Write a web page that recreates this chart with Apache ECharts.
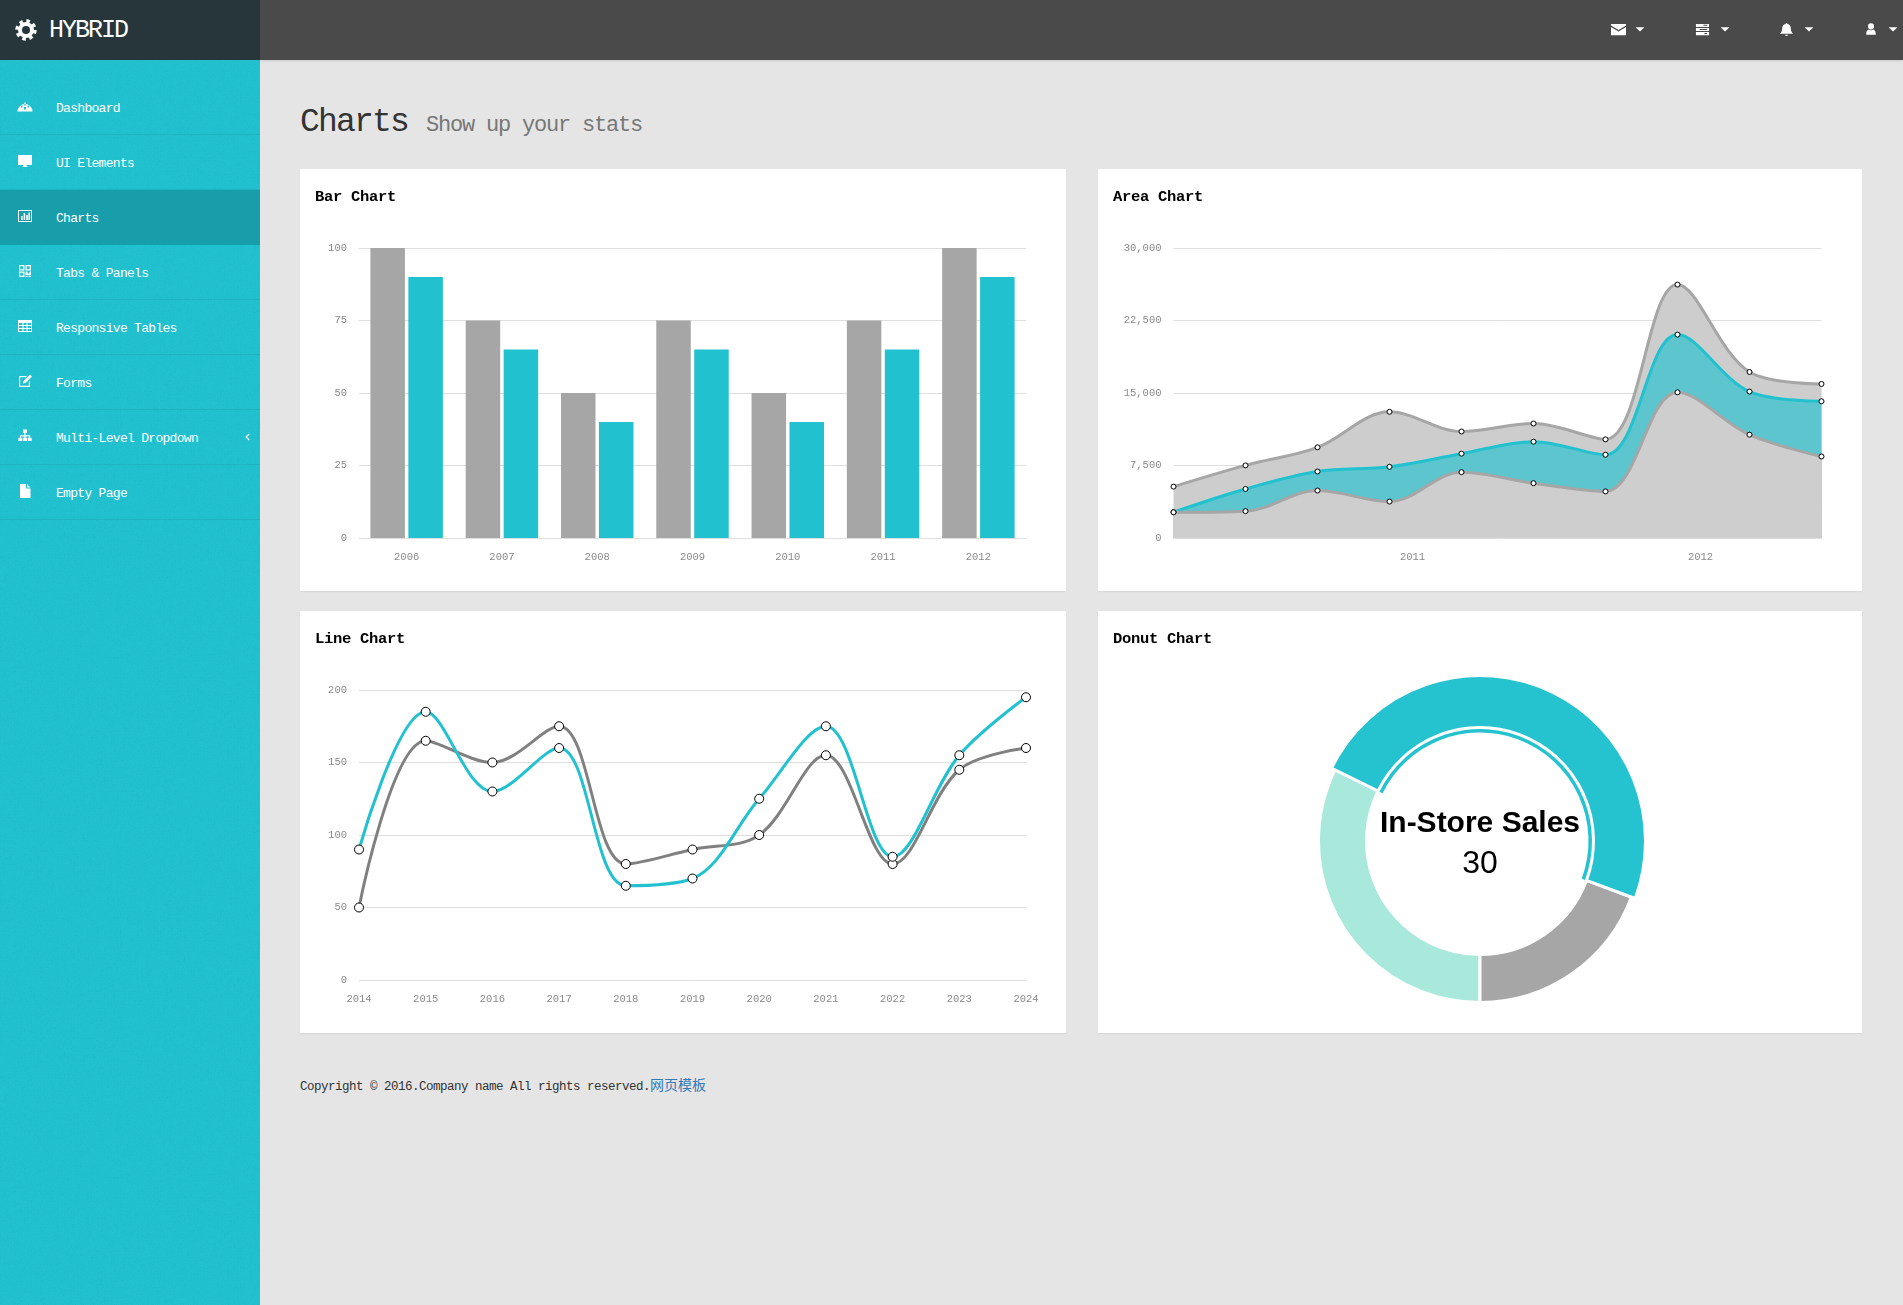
<!DOCTYPE html>
<html>
<head>
<meta charset="utf-8">
<title>Charts</title>
<script src="https://cdn.jsdelivr.net/npm/echarts@6/dist/echarts.min.js"></script>
<style>
html, body { margin: 0; padding: 0; width: 1903px; height: 1305px; overflow: hidden; background: #e5e5e5; font-family: "Liberation Mono", monospace; }
.brand { position: absolute; left: 0; top: 0; width: 260px; height: 60px; background: #26363b; color: #fff; z-index: 3; }
.brand span { position: absolute; left: 49px; top: 18px; font-size: 25px; line-height: 26px; letter-spacing: -2px; }
.top { position: absolute; left: 260px; top: 0; width: 1643px; height: 60px; background: #4a4a4a; box-shadow: 0 1px 3px rgba(0,0,0,.12); z-index: 2; }
.side { position: absolute; left: 0; top: 60px; width: 260px; height: 1245px; background-color: #22c1cf; background-image: url("data:image/svg+xml,%3Csvg xmlns='http://www.w3.org/2000/svg' width='260' height='260'%3E%3Cfilter id='n'%3E%3CfeTurbulence baseFrequency='.7' numOctaves='2'/%3E%3CfeColorMatrix values='0 0 0 0 0 0 0 0 0 .3 0 0 0 0 .35 0 0 0 .25 -.05'/%3E%3C/filter%3E%3Crect width='260' height='260' filter='url(%23n)'/%3E%3C/svg%3E"); }
.item { position: absolute; left: 0; width: 260px; height: 55px; line-height: 57px; color: #fff; font-size: 13px; letter-spacing: -.7px; border-bottom: 1px solid #1fb3c0; box-sizing: border-box; }
.item span { position: absolute; left: 56px; top: 0; }
.item.on { background: #189eaa; border-bottom-color: #189eaa; }
.ico { position: absolute; }
.head { position: absolute; left: 300px; top: 103px; color: #333; font-size: 33px; letter-spacing: -1.8px; line-height: 40px; white-space: pre; }
.head small { font-size: 22px; letter-spacing: -1.2px; color: #777; margin-left: 18px; }
.card { position: absolute; width: 766px; height: 422px; background: #fff; box-shadow: 0 1px 1px rgba(0,0,0,.05); }
.card h4 { position: absolute; left: 15px; top: 18px; margin: 0; font-size: 15.5px; letter-spacing: -.3px; line-height: 20px; color: #000; font-weight: bold; z-index: 2; }
.chart { position: absolute; left: 0; top: 0; width: 100%; height: 100%; }
.foot { position: absolute; left: 300px; top: 1075px; font-size: 12.5px; letter-spacing: -.5px; line-height: 18px; color: #333; }
.foot a { color: #337ab7; text-decoration: none; font-family: "Noto Sans CJK SC"; font-size: 14px; letter-spacing: 0; }
</style>
</head>
<body>
<div class="top" id="top"></div>
<div class="brand" id="brand"><span>HYBRID</span></div>
<div class="side" id="side"></div>
<div class="head">Charts<small>Show up your stats</small></div>

<div class="card" style="left:300px;top:169px"><h4>Bar Chart</h4><div class="chart" id="barChart"></div></div>
<div class="card" style="left:1098px;top:169px;width:764px"><h4>Area Chart</h4><div class="chart" id="areaChart"></div></div>
<div class="card" style="left:300px;top:611px"><h4>Line Chart</h4><div class="chart" id="lineChart"></div></div>
<div class="card" style="left:1098px;top:611px;width:764px"><h4>Donut Chart</h4><div class="chart" id="donutChart"></div></div>

<div class="foot">Copyright © 2016.Company name All rights reserved.<a href="#">网页模板</a></div>

<script>
// icons, 16x16 paths (no icon font available)
const icons = {
	dash: 'M.5 13.5a7.5 7.5 0 1 1 15 0zM4 7.5v2h1.5v-2zM7.2 4.5v3h1.5v-3zM10.5 7.5v2H12v-2zM7 9v2.5h2V9z',
	desk: 'M1 2h14v10H9.5v1.5H11V14H5v-.5h1.5V12H1z',
	chart: 'M1 2h14v12H1zM2 3v10h12V3zM4 8h1.6v4H4zM6.6 5h1.6v7H6.6zM9.2 7h1.6v5H9.2zM11.4 4.5H13V12h-1.6z',
	qr: 'M2 2h5.5v5.5H2zM3.2 3.2v3h3v-3zM8.5 2H14v5.5H8.5zM9.7 3.2v3h3v-3zM2 8.5h5.5V14H2zM3.2 9.7v3h3v-3zM8.5 8.5h2v2h2v-2H14v3.5H8.5zM8.5 12.8h2V14h-2zM11.5 12.8H14V14h-2.5z',
	table: 'M1 2h14v12H1zM2 5v2h3.5V5zM6.5 5v2h3V5zM10.5 5v2H14V5zM2 8v2h3.5V8zM6.5 8v2h3V8zM10.5 8v2H14V8zM2 11v2h3.5v-2zM6.5 11v2h3v-2zM10.5 11v2H14v-2z',
	edit: 'M2 3h8L8.7 4.2H3.2v8.6h8.6V9L13 7.8V14H2zM13 1.5l2 2L8.5 10 6 10.5l.5-2.5z',
	site: 'M6 1.5h4v3.6H8.6v2.1h4.6v2.6h1.5V13h-4V9.8h1.4V8.4H8.6v1.4H10V13H6V9.8h1.4V8.4H4v1.4h1.4V13h-4V9.8h1.5V7.2h4.5V5.1H6z',
	file: 'M3 1h6v4.5h4.5V15H3zM10 1l3.5 3.5H10z',
	mail: 'M0 2h16v1.6L8 8.5 0 3.6zM0 5.2l8 5 8-5V14H0z',
	tasks: 'M1 2h14v3.4H1zM9 3v1h4V3zM1 6.3h14v3.4H1zM5 7.4v1h8v-1zM1 10.6h14V14H1zM10 11.8v1h3v-1z',
	bell: 'M8 1c.6 0 1 .4 1 1 2.4.4 3.6 2.2 3.6 4.6 0 3 1 4.4 2.4 6H1c1.4-1.6 2.4-3 2.4-6C3.4 4.2 4.6 2.4 7 2c0-.6.4-1 1-1zM6.5 13.5h3a1.5 1.5 0 0 1-3 0z',
	user: 'M8 1.5a3.5 3.5 0 1 1 0 7 3.5 3.5 0 0 1 0-7zM2.5 14.5c0-4 1.5-5.5 3-5.8.7.5 1.6.8 2.5.8s1.8-.3 2.5-.8c1.5.3 3 1.8 3 5.8z',
	caret: 'M1 5h14L8 12z',
	left: 'M11 2.5 5 8l6 5.5 1-1.5L8 8l4-4z'
};
function icon(name, x, y, w, color) {
	return '<svg class="ico" style="left:' + x + 'px;top:' + y + 'px" width="' + w + '" height="' + w + '" viewBox="0 0 16 16"><path fill-rule="evenodd" fill="' + (color || '#fff') + '" d="' + icons[name] + '"/></svg>';
}

const menu = [
	['Dashboard', 'dash'], ['UI Elements', 'desk'], ['Charts', 'chart'], ['Tabs & Panels', 'qr'],
	['Responsive Tables', 'table'], ['Forms', 'edit'], ['Multi-Level Dropdown', 'site'], ['Empty Page', 'file']
];
let sideHtml = '';
menu.forEach(function (m, i) {
	const top = 20 + i * 55;   // side starts at y=60
	sideHtml += '<div class="item' + (m[0] === 'Charts' ? ' on' : '') + '" style="top:' + top + 'px">'
		+ icon(m[1], 17, 18, 16) + '<span>' + m[0].replace('&', '&amp;') + '</span>'
		+ (m[1] === 'site' ? icon('left', 242, 22, 10) : '') + '</div>';
});
document.getElementById('side').innerHTML = sideHtml;

document.getElementById('brand').innerHTML += '<svg class="ico" style="left:15px;top:19px" width="22" height="22" viewBox="0 0 22 22"><circle cx="11" cy="11" r="6" fill="none" stroke="#fff" stroke-width="4"/><circle cx="11" cy="11" r="9" fill="none" stroke="#fff" stroke-width="3.4" stroke-dasharray="3.6 3.47"/></svg>';

document.getElementById('top').innerHTML =
	icon('mail', 1351, 22, 15) + icon('caret', 1375, 24, 10) +
	icon('tasks', 1435, 22, 15) + icon('caret', 1460, 24, 10) +
	icon('bell', 1519, 22, 15) + icon('caret', 1544, 24, 10) +
	icon('user', 1604, 22, 14) + icon('caret', 1628, 24, 10);

const CYAN = '#22c1cf';
const GREY = '#a6a6a6';
const labelFont = { color: '#888', fontFamily: 'Liberation Mono', fontSize: 10.5 };
const yLabel = Object.assign({ margin: 12, padding: [2, 0, 0, 0] }, labelFont);
const gridLine = { show: true, lineStyle: { color: '#dedede', width: 1 } };

// Bar Chart
const barChart = echarts.init(document.getElementById('barChart'));
barChart.setOption({
	animation: false,
	grid: { left: 59, right: 40, top: 79, height: 290 },
	xAxis: {
		type: 'category',
		data: ['2006', '2007', '2008', '2009', '2010', '2011', '2012'],
		axisLine: { show: false },
		axisTick: { show: false },
		axisLabel: Object.assign({ margin: 14, interval: 0 }, labelFont)
	},
	yAxis: {
		type: 'value', min: 0, max: 100, interval: 25,
		axisLine: { show: false },
		axisTick: { show: false },
		axisLabel: yLabel,
		splitLine: gridLine
	},
	series: [
		{ type: 'bar', barWidth: 34.5, barGap: '10%', itemStyle: { color: GREY }, data: [100, 75, 50, 75, 50, 75, 100] },
		{ type: 'bar', barWidth: 34.5, barGap: '10%', itemStyle: { color: CYAN }, data: [90, 65, 40, 65, 40, 65, 90] }
	]
});

// Area Chart - running totals per quarter, 2010 Q1 .. 2012 Q2
const quarters = [0, 1, 2, 3, 4, 5, 6, 7, 8, 9];
const areaLow = [2666, 2778, 4912, 3767, 6810, 5670, 4820, 15073, 10687, 8432];
const areaMid = [2666, 5072, 6881, 7364, 8724, 9963, 8615, 21040, 15147, 14145];
const areaTop = [5313, 7513, 9382, 13053, 11017, 11844, 10203, 26215, 17175, 15936];
function areaSeries(values, lineColor, fillColor) {
	return {
		type: 'line',
		smooth: 0.35,
		symbol: 'circle',
		symbolSize: 5,
		showAllSymbol: true,
		itemStyle: { color: '#fff', borderColor: '#000', borderWidth: 1 },
		lineStyle: { color: lineColor, width: 3 },
		areaStyle: { color: fillColor, opacity: 1 },
		data: values.map(function (v, i) { return [quarters[i], v]; })
	};
}
const areaChart = echarts.init(document.getElementById('areaChart'));
areaChart.setOption({
	animation: false,
	grid: { left: 75.5, right: 40.5, top: 79, height: 290 },
	xAxis: {
		type: 'value', min: 0, max: 9,
		axisLine: { show: false },
		axisTick: { show: false },
		splitLine: { show: false },
		axisLabel: Object.assign({
			margin: 14,
			customValues: [3.32, 7.32],
			formatter: function (v) { return v < 5 ? '2011' : '2012'; }
		}, labelFont)
	},
	yAxis: {
		type: 'value', min: 0, max: 30000, interval: 7500,
		axisLine: { show: false },
		axisTick: { show: false },
		axisLabel: yLabel,
		splitLine: gridLine
	},
	series: [
		areaSeries(areaTop, GREY, '#cdcdcd'),
		areaSeries(areaMid, CYAN, '#5cc5cd'),
		areaSeries(areaLow, GREY, '#cecece')
	]
});

// Line Chart
function lineSeries(values, color) {
	return {
		type: 'line',
		smooth: 0.35,
		symbol: 'circle',
		symbolSize: 9,
		showAllSymbol: true,
		itemStyle: { color: '#fff', borderColor: '#000', borderWidth: 1 },
		lineStyle: { color: color, width: 3 },
		data: values
	};
}
const lineChart = echarts.init(document.getElementById('lineChart'));
lineChart.setOption({
	animation: false,
	grid: { left: 59, right: 40, top: 79, height: 290 },
	xAxis: {
		type: 'category', boundaryGap: false,
		data: ['2014', '2015', '2016', '2017', '2018', '2019', '2020', '2021', '2022', '2023', '2024'],
		axisLine: { show: false },
		axisTick: { show: false },
		axisLabel: Object.assign({ margin: 14, interval: 0 }, labelFont)
	},
	yAxis: {
		type: 'value', min: 0, max: 200, interval: 50,
		axisLine: { show: false },
		axisTick: { show: false },
		axisLabel: yLabel,
		splitLine: gridLine
	},
	series: [
		lineSeries([50, 165, 150, 175, 80, 90, 100, 155, 80, 145, 160], '#808080'),
		lineSeries([90, 185, 130, 160, 65, 70, 125, 175, 85, 155, 195], CYAN)
	]
});

// Donut Chart - the In-Store slice is drawn bigger, like a selected one
const donutData = [
	{ name: 'Mail-Order Sales', value: 20, color: '#a8e9dc' },
	{ name: 'In-Store Sales', value: 30, color: '#25c3d0' },
	{ name: 'Download Sales', value: 12, color: '#a6a6a6' }
];
function donutSeries(radius, only) {
	return {
		type: 'pie',
		center: [382, 230],
		radius: radius,
		startAngle: 270,
		silent: true,
		label: { show: false },
		labelLine: { show: false },
		itemStyle: { borderColor: '#fff', borderWidth: 3 },
		data: donutData.map(function (d) {
			return {
				name: d.name,
				value: d.value,
				itemStyle: only(d) ? { color: d.color } : { color: 'transparent', borderColor: 'transparent' }
			};
		})
	};
}
const isSel = function (d) { return d.name === 'In-Store Sales'; };
const donutChart = echarts.init(document.getElementById('donutChart'));
donutChart.setOption({
	animation: false,
	series: [
		donutSeries([113.5, 161.5], function (d) { return !isSel(d); }),
		donutSeries([113.5, 165.5], isSel),
		Object.assign(donutSeries([108.5, 112], isSel), {
			itemStyle: { borderWidth: 0 }
		})
	],
	graphic: [{
		type: 'text', left: 'center', top: 193,
		style: {
			text: 'In-Store Sales\n{v|30}', textAlign: 'center',
			font: 'bold 30px "Liberation Sans"', fill: '#000', lineHeight: 40,
			rich: { v: { font: '32px "Liberation Sans"', fill: '#000', lineHeight: 40 } }
		}
	}]
});
</script>
</body>
</html>
